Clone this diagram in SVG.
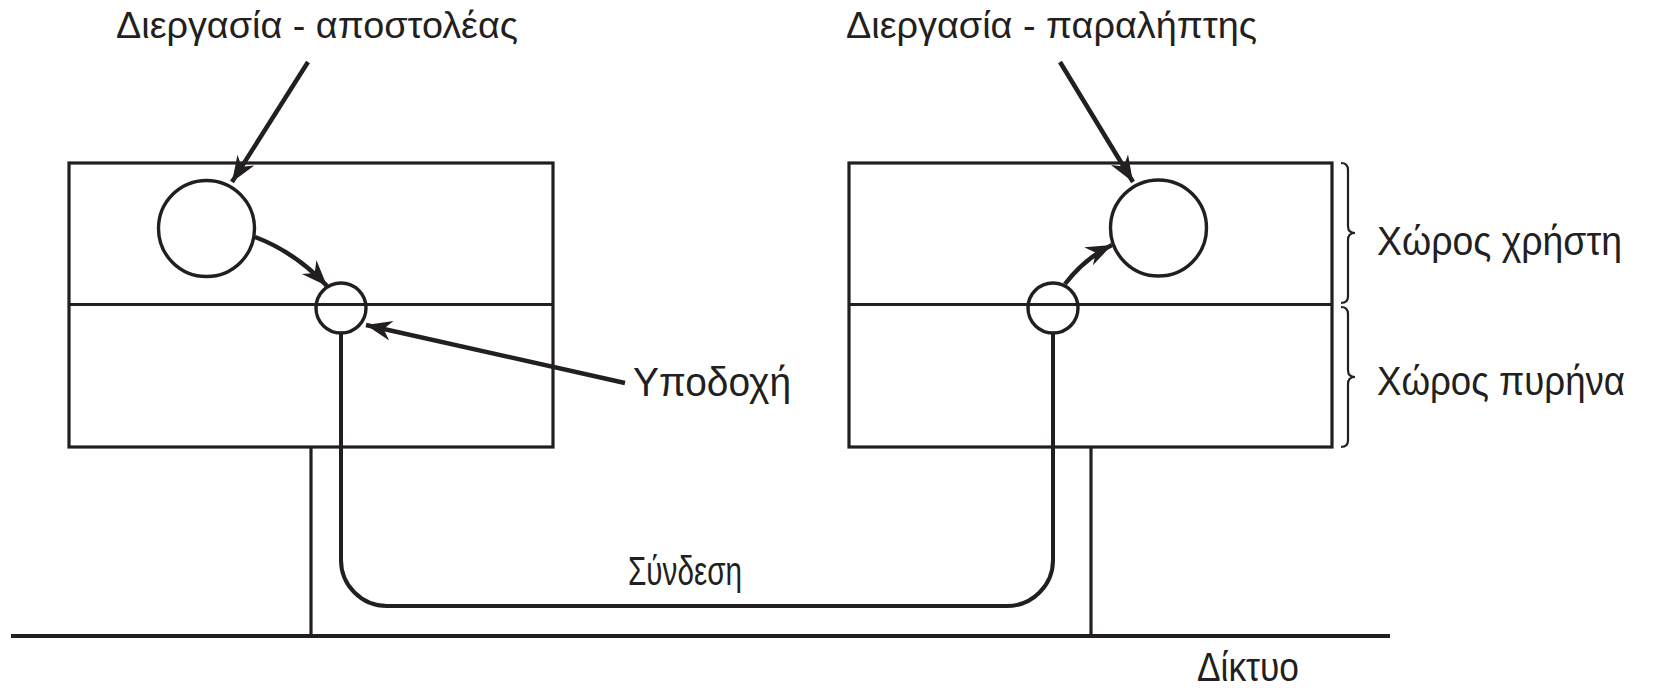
<svg xmlns="http://www.w3.org/2000/svg" width="1654" height="688" viewBox="0 0 1654 688">
  <style>
    .frame { fill: none; stroke: #231f20; stroke-width: 3.2; }
    .proc { fill: none; stroke: #231f20; stroke-width: 3.4; }
    .wire { fill: none; stroke: #231f20; stroke-width: 4; }
    .ptr { fill: none; stroke: #231f20; stroke-width: 4.5; }
    .brace { fill: none; stroke: #231f20; stroke-width: 2.2; }
    .lbl { font-family: "Liberation Sans", Arial, sans-serif; fill: #231f20; }
    .big { font-size: 41px; }
    .title { font-size: 36px; }
  </style>
  <defs>
    <marker id="head" viewBox="-27 -11 29 22" refX="0" refY="0" markerWidth="29" markerHeight="22" markerUnits="userSpaceOnUse" orient="auto">
      <path d="M0,0 L-26,-10 L-18,0 L-26,10 Z" fill="#231f20"/>
    </marker>
  </defs>

  <rect width="1654" height="688" fill="#ffffff"/>

  <!-- sending host: user space over kernel space -->
  <g id="sender-host">
    <rect class="frame" x="69" y="163" width="484" height="284"/>
    <line class="frame" x1="69" y1="304.5" x2="553" y2="304.5"/>
    <circle id="sender-process" class="proc" cx="206.5" cy="228.5" r="48"/>
    <circle id="sender-socket" class="proc" cx="341" cy="308" r="25"/>
  </g>

  <!-- receiving host -->
  <g id="receiver-host">
    <rect class="frame" x="849" y="163" width="483" height="284"/>
    <line class="frame" x1="849" y1="304.5" x2="1332" y2="304.5"/>
    <circle id="receiver-process" class="proc" cx="1158.5" cy="228" r="48"/>
    <circle id="receiver-socket" class="proc" cx="1053" cy="308" r="25"/>
  </g>

  <!-- network bus with host attachments -->
  <g id="network">
    <line class="wire" x1="11" y1="636" x2="1390" y2="636"/>
    <line class="frame" x1="311" y1="447" x2="311" y2="636"/>
    <line class="frame" x1="1091" y1="447" x2="1091" y2="636"/>
  </g>

  <!-- space braces -->
  <g id="space-braces">
    <path class="brace" d="M1341,163 Q1348,163 1348,170 L1348,226 Q1348,233 1355,233 Q1348,233 1348,240 L1348,296 Q1348,303 1341,303"/>
    <path class="brace" d="M1341,307 Q1348,307 1348,314 L1348,370 Q1348,377 1355,377 Q1348,377 1348,384 L1348,440 Q1348,447 1341,447"/>
  </g>

  <g id="connectors">
    <!-- connection between the two sockets -->
    <path class="wire" d="M341,333 L341,560 A46,46 0 0 0 387,606 L1007,606 A46,46 0 0 0 1053,560 L1053,333"/>
    <!-- process to socket -->
    <path class="ptr" d="M255,237 Q295,252 327,286" marker-end="url(#head)"/>
    <path class="ptr" d="M1065,284 Q1085,258 1112,245" marker-end="url(#head)"/>
    <!-- label pointers -->
    <line class="ptr" x1="308" y1="62" x2="232" y2="182" marker-end="url(#head)"/>
    <line class="ptr" x1="1060" y1="62" x2="1133" y2="182" marker-end="url(#head)"/>
    <line class="ptr" x1="625" y1="383" x2="366" y2="325" marker-end="url(#head)"/>
  </g>

  <g id="labels">
    <text class="lbl title" x="116" y="38" textLength="402" lengthAdjust="spacingAndGlyphs">Διεργασία - αποστολέας</text>
    <text class="lbl title" x="846" y="38" textLength="411" lengthAdjust="spacingAndGlyphs">Διεργασία - παραλήπτης</text>
    <text class="lbl big" x="633" y="396" textLength="158" lengthAdjust="spacingAndGlyphs">Υποδοχή</text>
    <text class="lbl big" x="628" y="585" textLength="114" lengthAdjust="spacingAndGlyphs">Σύνδεση</text>
    <text class="lbl big" x="1197" y="681" textLength="102" lengthAdjust="spacingAndGlyphs">Δίκτυο</text>
    <text class="lbl big" x="1377" y="255" textLength="245" lengthAdjust="spacingAndGlyphs">Χώρος χρήστη</text>
    <text class="lbl big" x="1377" y="395" textLength="248" lengthAdjust="spacingAndGlyphs">Χώρος πυρήνα</text>
  </g>
</svg>
